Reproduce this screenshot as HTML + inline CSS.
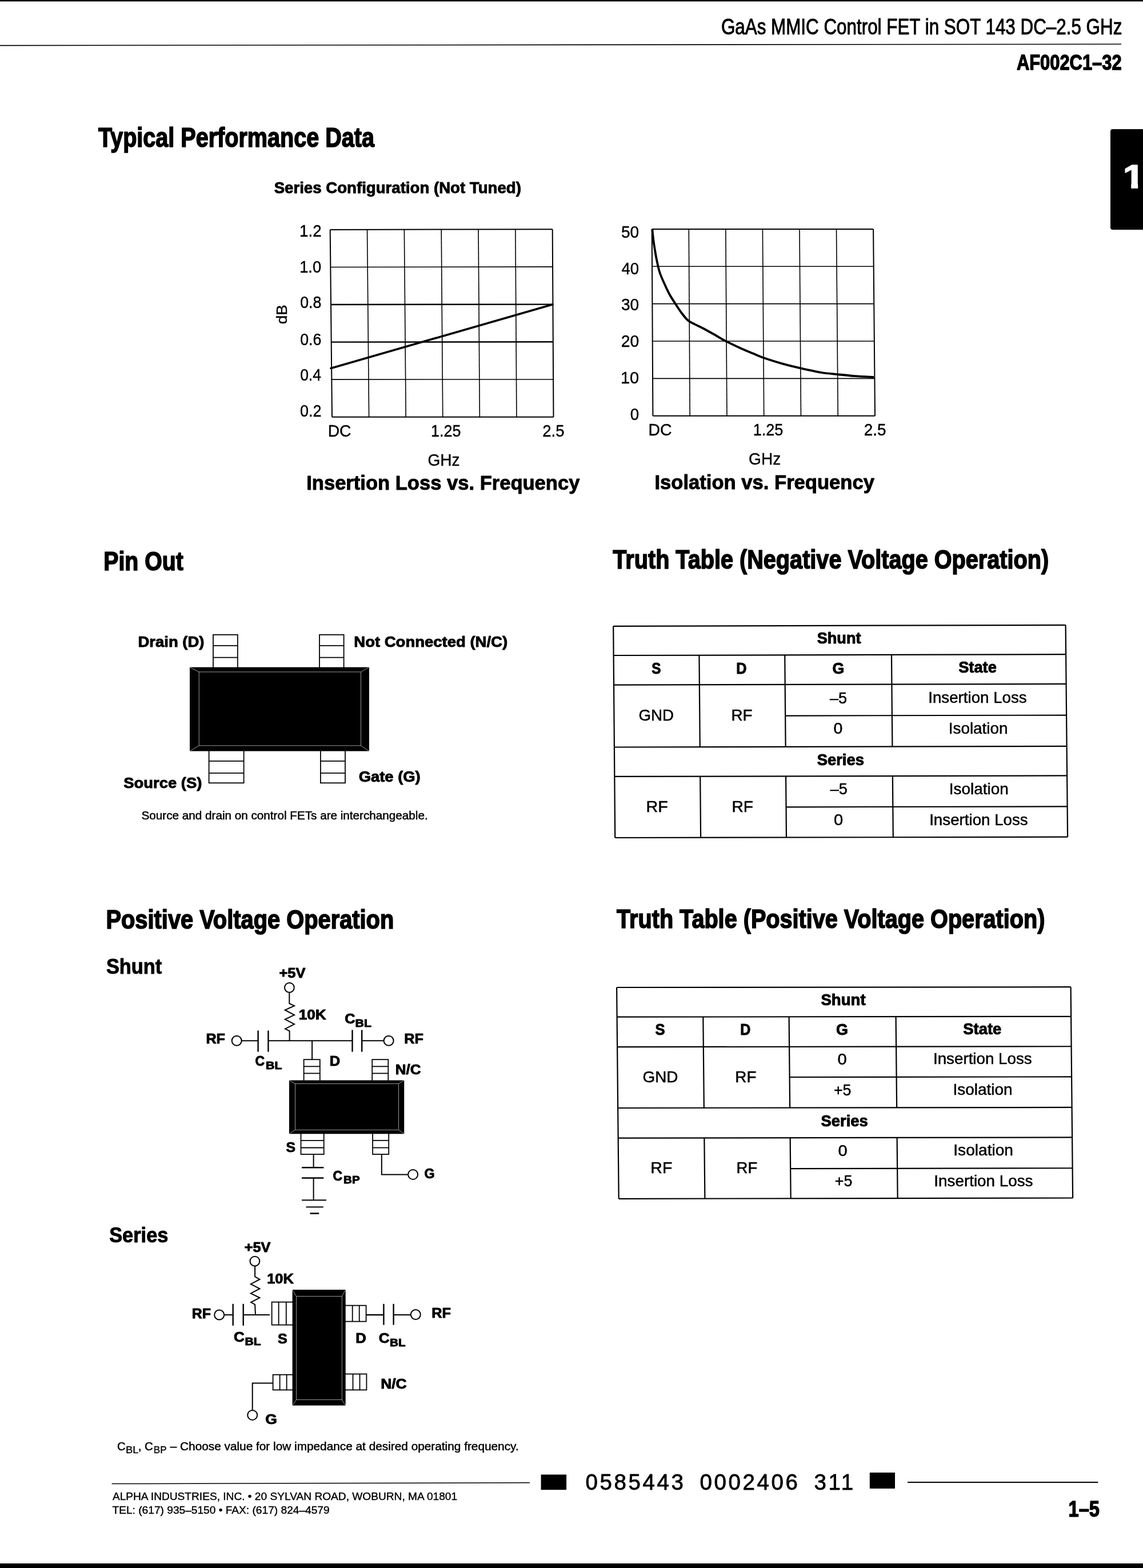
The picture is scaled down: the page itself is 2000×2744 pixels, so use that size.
<!DOCTYPE html>
<html lang="en"><head><meta charset="utf-8"><title>AF002C1-32 GaAs MMIC Control FET in SOT 143</title>
<style>
html,body{margin:0;padding:0;background:#fff}
body{width:2000px;height:2744px;overflow:hidden}
svg{display:block;font-family:"Liberation Sans",sans-serif;fill:#000;stroke:none}
text{white-space:pre;stroke-linejoin:round}
.b{font-weight:bold}
line,polyline,circle,rect[stroke-width]{stroke:#000}
.w line,.w rect{stroke:#bbb;stroke-width:.8;fill:none}
</style></head><body>
<svg width="2000" height="2744" viewBox="0 0 2000 2744">
<rect x="0" y="0" width="2000" height="2744" fill="#fff" stroke="none"/>
<g>
<rect x="0" y="0" width="2000" height="2.5" fill="#000"/>
<rect x="0" y="2736" width="2000" height="8" fill="#000"/>
<line x1="0" y1="79.6" x2="1962" y2="77.3" stroke-width="1.6"/>
<text x="1261.93" y="59.8" font-size="38.66" textLength="701.41" lengthAdjust="spacingAndGlyphs" stroke="#000" stroke-width="1">GaAs MMIC Control FET in SOT 143 DC–2.5 GHz</text>
<text x="1778.93" y="122" font-size="36.92" class="b" textLength="183.71" lengthAdjust="spacingAndGlyphs" stroke="#000" stroke-width="1.4">AF002C1–32</text>
<path d="M2000 226H1947q-4 0-4 4V398q0 4 4 4H2000Z" fill="#000"/>
<text x="1964.68" y="328.6" font-size="58.28" class="b" textLength="37.75" lengthAdjust="spacingAndGlyphs" fill="#fff" stroke="#fff" stroke-width="1.5">1</text>
<rect x="1962" y="320.5" width="17.2" height="11.5" fill="#000"/>
<rect x="1991.2" y="300" width="8.8" height="32" fill="#000"/>
<text x="171.95" y="257" font-size="47.67" class="b" textLength="482.95" lengthAdjust="spacingAndGlyphs" stroke="#000" stroke-width="1.7">Typical Performance Data</text>
<text x="479.65" y="337.8" font-size="28.56" class="b" textLength="432.2" lengthAdjust="spacingAndGlyphs" stroke="#000" stroke-width="0.95">Series Configuration (Not Tuned)</text>
<text x="181.3" y="997.6" font-size="46.22" class="b" textLength="139.45" lengthAdjust="spacingAndGlyphs" stroke="#000" stroke-width="1.7">Pin Out</text>
<text x="1072.25" y="995.2" font-size="46.95" class="b" textLength="762.93" lengthAdjust="spacingAndGlyphs" stroke="#000" stroke-width="1.7">Truth Table (Negative Voltage Operation)</text>
<text x="185.46" y="1624.5" font-size="46.08" class="b" textLength="503.82" lengthAdjust="spacingAndGlyphs" stroke="#000" stroke-width="1.7">Positive Voltage Operation</text>
<text x="1079.05" y="1623.8" font-size="46.95" class="b" textLength="749.38" lengthAdjust="spacingAndGlyphs" stroke="#000" stroke-width="1.7">Truth Table (Positive Voltage Operation)</text>
<text x="185.94" y="1704.3" font-size="36.7" class="b" textLength="97.32" lengthAdjust="spacingAndGlyphs" stroke="#000" stroke-width="0.95">Shunt</text>
<text x="191.14" y="2173.8" font-size="36.7" class="b" textLength="103.35" lengthAdjust="spacingAndGlyphs" stroke="#000" stroke-width="0.95">Series</text>
<line x1="577.7" y1="401.9" x2="581" y2="729.7" stroke-width="2"/>
<line x1="642.53" y1="401.78" x2="645.58" y2="729.7" stroke-width="1.6"/>
<line x1="707.37" y1="401.67" x2="710.17" y2="729.7" stroke-width="1.6"/>
<line x1="772.2" y1="401.55" x2="774.75" y2="729.7" stroke-width="1.6"/>
<line x1="837.03" y1="401.43" x2="839.33" y2="729.7" stroke-width="1.6"/>
<line x1="901.87" y1="401.32" x2="903.92" y2="729.7" stroke-width="1.6"/>
<line x1="966.7" y1="401.2" x2="968.5" y2="729.7" stroke-width="2"/>
<line x1="577.7" y1="401.9" x2="966.7" y2="401.2" stroke-width="2"/>
<line x1="578.36" y1="467.46" x2="967.06" y2="466.9" stroke-width="1.6"/>
<line x1="579.02" y1="533.02" x2="967.42" y2="532.6" stroke-width="2.4"/>
<line x1="579.68" y1="598.58" x2="967.78" y2="598.3" stroke-width="2.4"/>
<line x1="580.34" y1="664.14" x2="968.14" y2="664" stroke-width="1.6"/>
<line x1="581" y1="729.7" x2="968.5" y2="729.7" stroke-width="2"/>
<line x1="1140.7" y1="400.9" x2="1142.4" y2="727.8" stroke-width="2"/>
<line x1="1205.27" y1="400.9" x2="1207.17" y2="727.8" stroke-width="1.6"/>
<line x1="1269.83" y1="400.9" x2="1271.93" y2="727.8" stroke-width="1.6"/>
<line x1="1334.4" y1="400.9" x2="1336.7" y2="727.8" stroke-width="1.6"/>
<line x1="1398.97" y1="400.9" x2="1401.47" y2="727.8" stroke-width="1.6"/>
<line x1="1463.53" y1="400.9" x2="1466.23" y2="727.8" stroke-width="1.6"/>
<line x1="1528.1" y1="400.9" x2="1531" y2="727.8" stroke-width="2"/>
<line x1="1140.7" y1="400.9" x2="1528.1" y2="400.9" stroke-width="2"/>
<line x1="1141.04" y1="466.28" x2="1528.68" y2="466.28" stroke-width="1.6"/>
<line x1="1141.38" y1="531.66" x2="1529.26" y2="531.66" stroke-width="1.6"/>
<line x1="1141.72" y1="597.04" x2="1529.84" y2="597.04" stroke-width="1.6"/>
<line x1="1142.06" y1="662.42" x2="1530.42" y2="662.42" stroke-width="1.6"/>
<line x1="1142.4" y1="727.8" x2="1531" y2="727.8" stroke-width="2"/>
<polyline points="579,644.5 967,532.8" fill="none" stroke-width="3.6" stroke-linecap="round"/>
<path d="M1141.3 401C1141.63 404.17 1142.58 414.23 1143.3 420C1144.02 425.77 1144.57 429.43 1145.6 435.6C1146.63 441.77 1147.97 449.93 1149.5 457C1151.03 464.07 1152.28 470.67 1154.8 478C1157.32 485.33 1161.73 494.67 1164.6 501C1167.47 507.33 1169.27 511.1 1172 516C1174.73 520.9 1177.58 525.15 1181 530.4C1184.42 535.65 1188.7 542.43 1192.5 547.5C1196.3 552.57 1199.88 557.45 1203.8 560.8C1207.72 564.15 1211.63 565.32 1216 567.6C1220.37 569.88 1224.33 571.52 1230 574.5C1235.67 577.48 1243.42 581.8 1250 585.5C1256.58 589.2 1262 592.78 1269.5 596.7C1277 600.62 1286.33 605.07 1295 609C1303.67 612.93 1314.6 617.43 1321.5 620.3C1328.4 623.17 1328.53 623.53 1336.4 626.2C1344.27 628.87 1357.93 633.28 1368.7 636.3C1379.47 639.32 1389.5 641.68 1401 644.3C1412.5 646.92 1426.92 650.18 1437.7 652C1448.48 653.82 1456.02 654.18 1465.7 655.2C1475.38 656.22 1485.25 657.3 1495.8 658.1C1506.35 658.9 1523.47 659.68 1529 660" fill="none" stroke="#000" stroke-width="3.8" stroke-linejoin="round"/>
<text x="524.12" y="413.9" font-size="28.92" textLength="38.46" lengthAdjust="spacingAndGlyphs" stroke="#000" stroke-width="0.4">1.2</text>
<text x="524.15" y="476.5" font-size="28.92" textLength="38.01" lengthAdjust="spacingAndGlyphs" stroke="#000" stroke-width="0.4">1.0</text>
<text x="525.13" y="539.3" font-size="28.92" textLength="37.14" lengthAdjust="spacingAndGlyphs" stroke="#000" stroke-width="0.4">0.8</text>
<text x="525.13" y="603.6" font-size="28.92" textLength="37.14" lengthAdjust="spacingAndGlyphs" stroke="#000" stroke-width="0.4">0.6</text>
<text x="525.14" y="666.4" font-size="28.92" textLength="36.86" lengthAdjust="spacingAndGlyphs" stroke="#000" stroke-width="0.4">0.4</text>
<text x="525.12" y="729.2" font-size="28.92" textLength="37.43" lengthAdjust="spacingAndGlyphs" stroke="#000" stroke-width="0.4">0.2</text>
<text x="-0.91" y="0" font-size="25.29" textLength="33.99" lengthAdjust="spacingAndGlyphs" stroke="#000" stroke-width="0.4" transform="translate(501.6 566.3) rotate(-90)">dB</text>
<text x="573.64" y="764" font-size="28.92" textLength="40.77" lengthAdjust="spacingAndGlyphs" stroke="#000" stroke-width="0.4">DC</text>
<text x="754.08" y="763.5" font-size="28.92" textLength="52.33" lengthAdjust="spacingAndGlyphs" stroke="#000" stroke-width="0.4">1.25</text>
<text x="949.33" y="763.5" font-size="28.92" textLength="38.18" lengthAdjust="spacingAndGlyphs" stroke="#000" stroke-width="0.4">2.5</text>
<text x="748.4" y="814.5" font-size="29.65" textLength="56" lengthAdjust="spacingAndGlyphs" stroke="#000" stroke-width="0.4">GHz</text>
<text x="536.23" y="856.5" font-size="35.39" class="b" textLength="478.16" lengthAdjust="spacingAndGlyphs" stroke="#000" stroke-width="0.95">Insertion Loss vs. Frequency</text>
<text x="1086.98" y="416.4" font-size="28.92" textLength="31.17" lengthAdjust="spacingAndGlyphs" stroke="#000" stroke-width="0.4">50</text>
<text x="1087.55" y="479.7" font-size="28.92" textLength="30.58" lengthAdjust="spacingAndGlyphs" stroke="#000" stroke-width="0.4">40</text>
<text x="1086.98" y="543.2" font-size="28.92" textLength="31.17" lengthAdjust="spacingAndGlyphs" stroke="#000" stroke-width="0.4">30</text>
<text x="1086.69" y="607.2" font-size="28.92" textLength="31.47" lengthAdjust="spacingAndGlyphs" stroke="#000" stroke-width="0.4">20</text>
<text x="1085.93" y="670.5" font-size="28.92" textLength="32.26" lengthAdjust="spacingAndGlyphs" stroke="#000" stroke-width="0.4">10</text>
<text x="1102.69" y="735.2" font-size="28.92" textLength="15.41" lengthAdjust="spacingAndGlyphs" stroke="#000" stroke-width="0.4">0</text>
<text x="1134.43" y="762.1" font-size="28.92" textLength="40.99" lengthAdjust="spacingAndGlyphs" stroke="#000" stroke-width="0.4">DC</text>
<text x="1317.67" y="762" font-size="28.92" textLength="52.75" lengthAdjust="spacingAndGlyphs" stroke="#000" stroke-width="0.4">1.25</text>
<text x="1511.81" y="762" font-size="28.92" textLength="38.6" lengthAdjust="spacingAndGlyphs" stroke="#000" stroke-width="0.4">2.5</text>
<text x="1310.1" y="812.9" font-size="29.65" textLength="56.11" lengthAdjust="spacingAndGlyphs" stroke="#000" stroke-width="0.4">GHz</text>
<text x="1145.43" y="855.8" font-size="35.39" class="b" textLength="384.55" lengthAdjust="spacingAndGlyphs" stroke="#000" stroke-width="0.95">Isolation vs. Frequency</text>
<rect x="373" y="1110.8" width="42.8" height="59.2" fill="#fff" stroke-width="1.8"/>
<line x1="373" y1="1129.8" x2="415.8" y2="1129.8" stroke-width="1.8"/>
<line x1="373" y1="1150.7" x2="415.8" y2="1150.7" stroke-width="1.8"/>
<rect x="559" y="1110.8" width="42.6" height="59.2" fill="#fff" stroke-width="1.8"/>
<line x1="559" y1="1129.8" x2="601.6" y2="1129.8" stroke-width="1.8"/>
<line x1="559" y1="1150.7" x2="601.6" y2="1150.7" stroke-width="1.8"/>
<rect x="365.6" y="1312" width="61" height="58.2" fill="#fff" stroke-width="1.8"/>
<line x1="365.6" y1="1331.9" x2="426.6" y2="1331.9" stroke-width="1.8"/>
<line x1="365.6" y1="1352.8" x2="426.6" y2="1352.8" stroke-width="1.8"/>
<rect x="560.9" y="1312" width="43.1" height="58.2" fill="#fff" stroke-width="1.8"/>
<line x1="560.9" y1="1331.9" x2="604" y2="1331.9" stroke-width="1.8"/>
<line x1="560.9" y1="1352.8" x2="604" y2="1352.8" stroke-width="1.8"/>
<rect x="332" y="1167.6" width="313.9" height="146.9" fill="#000"/>
<g class="w">
<rect x="348.2" y="1175.9" width="283.3" height="129"/>
<line x1="332" y1="1167.6" x2="348.2" y2="1175.9"/>
<line x1="645.9" y1="1167.6" x2="631.5" y2="1175.9"/>
<line x1="332" y1="1314.5" x2="348.2" y2="1304.9"/>
<line x1="645.9" y1="1314.5" x2="631.5" y2="1304.9"/>
</g>
<text x="241.49" y="1131.6" font-size="26.53" class="b" textLength="116.04" lengthAdjust="spacingAndGlyphs" stroke="#000" stroke-width="0.95">Drain (D)</text>
<text x="619.29" y="1131.6" font-size="26.53" class="b" textLength="268.83" lengthAdjust="spacingAndGlyphs" stroke="#000" stroke-width="0.95">Not Connected (N/C)</text>
<text x="216.25" y="1379" font-size="26.53" class="b" textLength="137.04" lengthAdjust="spacingAndGlyphs" stroke="#000" stroke-width="0.95">Source (S)</text>
<text x="627.78" y="1367.6" font-size="26.53" class="b" textLength="107.91" lengthAdjust="spacingAndGlyphs" stroke="#000" stroke-width="0.95">Gate (G)</text>
<text x="247.52" y="1433.6" font-size="20.78" textLength="501.14" lengthAdjust="spacingAndGlyphs" stroke="#000" stroke-width="0.5">Source and drain on control FETs are interchangeable.</text>
<line x1="1073.2" y1="1095.8" x2="1864.6" y2="1093.9" stroke-width="2.2"/>
<line x1="1073.61" y1="1147" x2="1865.08" y2="1145.18" stroke-width="2.2"/>
<line x1="1074.03" y1="1198.6" x2="1865.57" y2="1196.87" stroke-width="2.2"/>
<line x1="1374.16" y1="1252.58" x2="1866.09" y2="1251.56" stroke-width="2.2"/>
<line x1="1074.92" y1="1307.5" x2="1866.6" y2="1305.94" stroke-width="2.2"/>
<line x1="1075.33" y1="1358.9" x2="1867.09" y2="1357.43" stroke-width="2.2"/>
<line x1="1375.53" y1="1412.28" x2="1867.6" y2="1411.41" stroke-width="2.2"/>
<line x1="1076.2" y1="1466" x2="1868.1" y2="1464.7" stroke-width="2.2"/>
<line x1="1073.2" y1="1095.8" x2="1076.2" y2="1466" stroke-width="2.2"/>
<line x1="1864.6" y1="1093.9" x2="1868.1" y2="1464.7" stroke-width="2.2"/>
<line x1="1223.43" y1="1146.66" x2="1224.77" y2="1307.21" stroke-width="2.2"/>
<line x1="1225.2" y1="1358.62" x2="1226.09" y2="1465.75" stroke-width="2.2"/>
<line x1="1373.24" y1="1146.31" x2="1374.62" y2="1306.91" stroke-width="2.2"/>
<line x1="1375.07" y1="1358.34" x2="1375.99" y2="1465.51" stroke-width="2.2"/>
<line x1="1559.96" y1="1145.88" x2="1561.39" y2="1306.54" stroke-width="2.2"/>
<line x1="1561.85" y1="1357.99" x2="1562.81" y2="1465.2" stroke-width="2.2"/>
<text x="1429.66" y="1126" font-size="26.96" class="b" textLength="76.91" lengthAdjust="spacingAndGlyphs" stroke="#000" stroke-width="0.95">Shunt</text>
<text x="1140.25" y="1179.2" font-size="26.96" class="b" textLength="16.18" lengthAdjust="spacingAndGlyphs" stroke="#000" stroke-width="0.95">S</text>
<text x="1288.33" y="1179.2" font-size="26.96" class="b" textLength="18.26" lengthAdjust="spacingAndGlyphs" stroke="#000" stroke-width="0.95">D</text>
<text x="1456.41" y="1178.5" font-size="26.96" class="b" textLength="20.8" lengthAdjust="spacingAndGlyphs" stroke="#000" stroke-width="0.95">G</text>
<text x="1677.16" y="1177" font-size="26.96" class="b" textLength="66.74" lengthAdjust="spacingAndGlyphs" stroke="#000" stroke-width="0.95">State</text>
<text x="1117.46" y="1260.8" font-size="26.89" textLength="61.59" lengthAdjust="spacingAndGlyphs" stroke="#000" stroke-width="0.5">GND</text>
<text x="1279.53" y="1260.8" font-size="26.89" textLength="37.02" lengthAdjust="spacingAndGlyphs" stroke="#000" stroke-width="0.5">RF</text>
<text x="1452.05" y="1230.9" font-size="26.89" textLength="30.04" lengthAdjust="spacingAndGlyphs" stroke="#000" stroke-width="0.5">–5</text>
<text x="1458.51" y="1284" font-size="26.89" textLength="15.87" lengthAdjust="spacingAndGlyphs" stroke="#000" stroke-width="0.5">0</text>
<text x="1624.26" y="1230.3" font-size="26.89" textLength="172.48" lengthAdjust="spacingAndGlyphs" stroke="#000" stroke-width="0.5">Insertion Loss</text>
<text x="1659.74" y="1284" font-size="26.89" textLength="103.81" lengthAdjust="spacingAndGlyphs" stroke="#000" stroke-width="0.5">Isolation</text>
<text x="1429.65" y="1338.5" font-size="26.96" class="b" textLength="82.34" lengthAdjust="spacingAndGlyphs" stroke="#000" stroke-width="0.95">Series</text>
<text x="1130.46" y="1420.7" font-size="26.89" textLength="38.23" lengthAdjust="spacingAndGlyphs" stroke="#000" stroke-width="0.5">RF</text>
<text x="1280.4" y="1420.7" font-size="26.89" textLength="37.57" lengthAdjust="spacingAndGlyphs" stroke="#000" stroke-width="0.5">RF</text>
<text x="1452.75" y="1390.2" font-size="26.89" textLength="30.15" lengthAdjust="spacingAndGlyphs" stroke="#000" stroke-width="0.5">–5</text>
<text x="1459.08" y="1443.9" font-size="26.89" textLength="16.22" lengthAdjust="spacingAndGlyphs" stroke="#000" stroke-width="0.5">0</text>
<text x="1660.73" y="1389.7" font-size="26.89" textLength="104.12" lengthAdjust="spacingAndGlyphs" stroke="#000" stroke-width="0.5">Isolation</text>
<text x="1626.16" y="1444" font-size="26.89" textLength="172.58" lengthAdjust="spacingAndGlyphs" stroke="#000" stroke-width="0.5">Insertion Loss</text>
<line x1="1079.1" y1="1728" x2="1873.6" y2="1727.2" stroke-width="2.2"/>
<line x1="1079.6" y1="1779.7" x2="1874.09" y2="1778.83" stroke-width="2.2"/>
<line x1="1080.11" y1="1832.2" x2="1874.59" y2="1831.26" stroke-width="2.2"/>
<line x1="1381.62" y1="1885.02" x2="1875.09" y2="1884.39" stroke-width="2.2"/>
<line x1="1081.15" y1="1939" x2="1875.6" y2="1937.91" stroke-width="2.2"/>
<line x1="1081.67" y1="1991.6" x2="1876.09" y2="1990.44" stroke-width="2.2"/>
<line x1="1383.16" y1="2045.03" x2="1876.61" y2="2044.27" stroke-width="2.2"/>
<line x1="1082.7" y1="2097.8" x2="1877.1" y2="2096.5" stroke-width="2.2"/>
<line x1="1079.1" y1="1728" x2="1082.7" y2="2097.8" stroke-width="2.2"/>
<line x1="1873.6" y1="1727.2" x2="1877.1" y2="2096.5" stroke-width="2.2"/>
<line x1="1230.3" y1="1779.53" x2="1231.84" y2="1938.79" stroke-width="2.2"/>
<line x1="1232.35" y1="1991.38" x2="1233.38" y2="2097.55" stroke-width="2.2"/>
<line x1="1380.6" y1="1779.37" x2="1382.13" y2="1938.59" stroke-width="2.2"/>
<line x1="1382.64" y1="1991.16" x2="1383.66" y2="2097.31" stroke-width="2.2"/>
<line x1="1567.59" y1="1779.17" x2="1569.12" y2="1938.33" stroke-width="2.2"/>
<line x1="1569.62" y1="1990.89" x2="1570.64" y2="2097" stroke-width="2.2"/>
<text x="1436.45" y="1758.8" font-size="26.96" class="b" textLength="78.23" lengthAdjust="spacingAndGlyphs" stroke="#000" stroke-width="0.95">Shunt</text>
<text x="1146.41" y="1811" font-size="26.96" class="b" textLength="17.06" lengthAdjust="spacingAndGlyphs" stroke="#000" stroke-width="0.95">S</text>
<text x="1295.34" y="1811" font-size="26.96" class="b" textLength="18.14" lengthAdjust="spacingAndGlyphs" stroke="#000" stroke-width="0.95">D</text>
<text x="1462.9" y="1810.5" font-size="26.96" class="b" textLength="20.91" lengthAdjust="spacingAndGlyphs" stroke="#000" stroke-width="0.95">G</text>
<text x="1685.25" y="1810.3" font-size="26.96" class="b" textLength="67.04" lengthAdjust="spacingAndGlyphs" stroke="#000" stroke-width="0.95">State</text>
<text x="1124.56" y="1893.5" font-size="26.89" textLength="61.91" lengthAdjust="spacingAndGlyphs" stroke="#000" stroke-width="0.5">GND</text>
<text x="1286.33" y="1893.5" font-size="26.89" textLength="37.02" lengthAdjust="spacingAndGlyphs" stroke="#000" stroke-width="0.5">RF</text>
<text x="1465.58" y="1863.2" font-size="26.89" textLength="16.22" lengthAdjust="spacingAndGlyphs" stroke="#000" stroke-width="0.5">0</text>
<text x="1458.91" y="1916.7" font-size="26.89" textLength="30.51" lengthAdjust="spacingAndGlyphs" stroke="#000" stroke-width="0.5">+5</text>
<text x="1632.95" y="1862" font-size="26.89" textLength="172.79" lengthAdjust="spacingAndGlyphs" stroke="#000" stroke-width="0.5">Insertion Loss</text>
<text x="1667.54" y="1916.2" font-size="26.89" textLength="104.02" lengthAdjust="spacingAndGlyphs" stroke="#000" stroke-width="0.5">Isolation</text>
<text x="1436.45" y="1970.6" font-size="26.96" class="b" textLength="82.34" lengthAdjust="spacingAndGlyphs" stroke="#000" stroke-width="0.95">Series</text>
<text x="1138.38" y="2052.9" font-size="26.89" textLength="37.9" lengthAdjust="spacingAndGlyphs" stroke="#000" stroke-width="0.5">RF</text>
<text x="1288.55" y="2052.9" font-size="26.89" textLength="36.69" lengthAdjust="spacingAndGlyphs" stroke="#000" stroke-width="0.5">RF</text>
<text x="1466.58" y="2023" font-size="26.89" textLength="16.22" lengthAdjust="spacingAndGlyphs" stroke="#000" stroke-width="0.5">0</text>
<text x="1460.81" y="2076" font-size="26.89" textLength="30.51" lengthAdjust="spacingAndGlyphs" stroke="#000" stroke-width="0.5">+5</text>
<text x="1668.32" y="2021.6" font-size="26.89" textLength="104.65" lengthAdjust="spacingAndGlyphs" stroke="#000" stroke-width="0.5">Isolation</text>
<text x="1634.35" y="2076" font-size="26.89" textLength="173.2" lengthAdjust="spacingAndGlyphs" stroke="#000" stroke-width="0.5">Insertion Loss</text>
<text x="488.46" y="1711.2" font-size="24.06" class="b" textLength="45.95" lengthAdjust="spacingAndGlyphs" stroke="#000" stroke-width="0.95">+5V</text>
<polyline points="506.3,1737 506.3,1756 515,1760.2 498.7,1767.5 515,1776.2 498.7,1783.8 515,1792.3 499,1800.4 506.6,1804.4 506.6,1821.3" fill="none" stroke-width="2" stroke-linejoin="miter"/>
<circle cx="506.4" cy="1728.3" r="8.4" fill="#fff" stroke-width="2"/>
<text x="522.71" y="1784.4" font-size="24.49" class="b" textLength="48" lengthAdjust="spacingAndGlyphs" stroke="#000" stroke-width="0.95">10K</text>
<line x1="423" y1="1821.3" x2="451.6" y2="1821.3" stroke-width="2"/>
<line x1="451.6" y1="1803.5" x2="451.6" y2="1840.6" stroke-width="2.4"/>
<line x1="469.4" y1="1803.5" x2="469.4" y2="1840.6" stroke-width="2.4"/>
<line x1="469.4" y1="1821.3" x2="616.5" y2="1821.3" stroke-width="2"/>
<line x1="616.5" y1="1802.4" x2="616.5" y2="1840.6" stroke-width="2.4"/>
<line x1="633.2" y1="1802.4" x2="633.2" y2="1840.6" stroke-width="2.4"/>
<line x1="633.2" y1="1821.3" x2="671" y2="1821.3" stroke-width="2"/>
<circle cx="414.2" cy="1821.3" r="8.5" fill="#fff" stroke-width="2"/>
<circle cx="680.1" cy="1821.3" r="8.5" fill="#fff" stroke-width="2"/>
<text x="360.44" y="1826" font-size="24.78" class="b" textLength="33.54" lengthAdjust="spacingAndGlyphs" stroke="#000" stroke-width="0.95">RF</text>
<text x="707.23" y="1826" font-size="24.78" class="b" textLength="33.65" lengthAdjust="spacingAndGlyphs" stroke="#000" stroke-width="0.95">RF</text>
<text x="603.26" y="1790.8" font-size="24.06" class="b" textLength="18.25" lengthAdjust="spacingAndGlyphs" stroke="#000" stroke-width="0.95">C</text>
<text x="621.6" y="1797" font-size="18.24" class="b" textLength="28.23" lengthAdjust="spacingAndGlyphs" stroke="#000" stroke-width="0.95">BL</text>
<text x="446.46" y="1865.4" font-size="24.06" class="b" textLength="16.59" lengthAdjust="spacingAndGlyphs" stroke="#000" stroke-width="0.95">C</text>
<text x="465.09" y="1870.8" font-size="18.24" class="b" textLength="28.33" lengthAdjust="spacingAndGlyphs" stroke="#000" stroke-width="0.95">BL</text>
<line x1="546.1" y1="1821.3" x2="546.1" y2="1855" stroke-width="2"/>
<text x="576.82" y="1864.5" font-size="24.06" class="b" textLength="18.38" lengthAdjust="spacingAndGlyphs" stroke="#000" stroke-width="0.95">D</text>
<text x="691.79" y="1879.9" font-size="24.06" class="b" textLength="44.64" lengthAdjust="spacingAndGlyphs" stroke="#000" stroke-width="0.95">N/C</text>
<rect x="531.6" y="1854.2" width="28.2" height="38.8" fill="#fff" stroke-width="1.8"/>
<line x1="531.6" y1="1866.3" x2="559.8" y2="1866.3" stroke-width="1.8"/>
<line x1="531.6" y1="1878.4" x2="559.8" y2="1878.4" stroke-width="1.8"/>
<rect x="651.2" y="1854.2" width="28.1" height="38.8" fill="#fff" stroke-width="1.8"/>
<line x1="651.2" y1="1866.3" x2="679.3" y2="1866.3" stroke-width="1.8"/>
<line x1="651.2" y1="1878.4" x2="679.3" y2="1878.4" stroke-width="1.8"/>
<rect x="526.5" y="1982" width="40.2" height="38" fill="#fff" stroke-width="1.8"/>
<line x1="526.5" y1="1995.8" x2="566.7" y2="1995.8" stroke-width="1.8"/>
<line x1="526.5" y1="2008.5" x2="566.7" y2="2008.5" stroke-width="1.8"/>
<rect x="652.1" y="1982" width="28.1" height="38" fill="#fff" stroke-width="1.8"/>
<line x1="652.1" y1="1995.8" x2="680.2" y2="1995.8" stroke-width="1.8"/>
<line x1="652.1" y1="2008.5" x2="680.2" y2="2008.5" stroke-width="1.8"/>
<rect x="505.9" y="1890.5" width="201.3" height="93.8" fill="#000"/>
<g class="w">
<rect x="516.5" y="1896.5" width="181" height="80.8"/>
<line x1="505.9" y1="1890.5" x2="516.5" y2="1896.5"/>
<line x1="707.2" y1="1890.5" x2="697.5" y2="1896.5"/>
<line x1="505.9" y1="1984.3" x2="516.5" y2="1977.3"/>
<line x1="707.2" y1="1984.3" x2="697.5" y2="1977.3"/>
</g>
<text x="500.43" y="2015.5" font-size="24.06" class="b" textLength="16.51" lengthAdjust="spacingAndGlyphs" stroke="#000" stroke-width="0.95">S</text>
<line x1="548.6" y1="2020" x2="548.6" y2="2043.3" stroke-width="2"/>
<line x1="528" y1="2043.3" x2="566.4" y2="2043.3" stroke-width="2.4"/>
<line x1="528" y1="2061.5" x2="566.4" y2="2061.5" stroke-width="2.4"/>
<line x1="548.6" y1="2061.5" x2="548.6" y2="2100.2" stroke-width="2"/>
<line x1="528" y1="2100.2" x2="571" y2="2100.2" stroke-width="2"/>
<line x1="535.5" y1="2112.3" x2="565.8" y2="2112.3" stroke-width="2"/>
<line x1="542.5" y1="2123.5" x2="558.2" y2="2123.5" stroke-width="2.6"/>
<text x="582.56" y="2066" font-size="24.06" class="b" textLength="16.59" lengthAdjust="spacingAndGlyphs" stroke="#000" stroke-width="0.95">C</text>
<text x="601.14" y="2071.2" font-size="18.24" class="b" textLength="28.48" lengthAdjust="spacingAndGlyphs" stroke="#000" stroke-width="0.95">BP</text>
<polyline points="667.8,2020 667.8,2055.4 713.6,2055.4" fill="none" stroke-width="2"/>
<circle cx="722.6" cy="2055.4" r="8.5" fill="#fff" stroke-width="2"/>
<text x="742.45" y="2062.4" font-size="24.06" class="b" textLength="18.03" lengthAdjust="spacingAndGlyphs" stroke="#000" stroke-width="0.95">G</text>
<text x="427.66" y="2190.5" font-size="24.06" class="b" textLength="45.64" lengthAdjust="spacingAndGlyphs" stroke="#000" stroke-width="0.95">+5V</text>
<polyline points="446.1,2215 446.1,2234.1 454.4,2238.9 438.8,2247.2 454.4,2255.2 438.8,2263.4 454.4,2271.1 439,2279.1 446.1,2282.8 447,2301" fill="none" stroke-width="2" stroke-linejoin="miter"/>
<circle cx="445.9" cy="2207.1" r="8.4" fill="#fff" stroke-width="2"/>
<text x="467.15" y="2245.7" font-size="24.49" class="b" textLength="46.75" lengthAdjust="spacingAndGlyphs" stroke="#000" stroke-width="0.95">10K</text>
<text x="335.86" y="2307" font-size="24.78" class="b" textLength="33.22" lengthAdjust="spacingAndGlyphs" stroke="#000" stroke-width="0.95">RF</text>
<circle cx="383.7" cy="2301" r="8.5" fill="#fff" stroke-width="2"/>
<line x1="392.5" y1="2301" x2="407.7" y2="2301" stroke-width="2"/>
<line x1="407.7" y1="2281.8" x2="407.7" y2="2319.8" stroke-width="2.4"/>
<line x1="425.7" y1="2281.8" x2="425.7" y2="2319.8" stroke-width="2.4"/>
<line x1="425.7" y1="2301" x2="472" y2="2301" stroke-width="2"/>
<rect x="475.6" y="2278.6" width="38.4" height="40" fill="#fff" stroke-width="1.8"/>
<line x1="487.6" y1="2278.6" x2="487.6" y2="2318.6" stroke-width="1.8"/>
<line x1="500.8" y1="2278.6" x2="500.8" y2="2318.6" stroke-width="1.8"/>
<rect x="602" y="2284.6" width="38.6" height="28" fill="#fff" stroke-width="1.8"/>
<line x1="616.7" y1="2284.6" x2="616.7" y2="2312.6" stroke-width="1.8"/>
<line x1="628.7" y1="2284.6" x2="628.7" y2="2312.6" stroke-width="1.8"/>
<rect x="477.6" y="2405.7" width="36.4" height="26.7" fill="#fff" stroke-width="1.8"/>
<line x1="489.6" y1="2405.7" x2="489.6" y2="2432.4" stroke-width="1.8"/>
<line x1="501.6" y1="2405.7" x2="501.6" y2="2432.4" stroke-width="1.8"/>
<rect x="602" y="2404.5" width="39.4" height="27.9" fill="#fff" stroke-width="1.8"/>
<line x1="617.5" y1="2404.5" x2="617.5" y2="2432.4" stroke-width="1.8"/>
<line x1="629.5" y1="2404.5" x2="629.5" y2="2432.4" stroke-width="1.8"/>
<rect x="511.6" y="2257" width="93.1" height="202.6" fill="#000"/>
<g class="w">
<rect x="518.4" y="2268.6" width="79.9" height="181"/>
<line x1="511.6" y1="2257" x2="518.4" y2="2268.6"/>
<line x1="604.7" y1="2257" x2="598.3" y2="2268.6"/>
<line x1="511.6" y1="2459.6" x2="518.4" y2="2449.6"/>
<line x1="604.7" y1="2459.6" x2="598.3" y2="2449.6"/>
</g>
<line x1="640.6" y1="2301" x2="671.4" y2="2301" stroke-width="2.4"/>
<line x1="671.4" y1="2281.8" x2="671.4" y2="2318.6" stroke-width="2.4"/>
<line x1="688.6" y1="2281.8" x2="688.6" y2="2318.6" stroke-width="2.4"/>
<line x1="688.6" y1="2301" x2="718.5" y2="2301" stroke-width="2"/>
<circle cx="727.3" cy="2300.5" r="8.5" fill="#fff" stroke-width="2"/>
<text x="755.33" y="2305.8" font-size="24.78" class="b" textLength="33.65" lengthAdjust="spacingAndGlyphs" stroke="#000" stroke-width="0.95">RF</text>
<text x="409.13" y="2347.7" font-size="24.06" class="b" textLength="18.8" lengthAdjust="spacingAndGlyphs" stroke="#000" stroke-width="0.95">C</text>
<text x="428.6" y="2353.7" font-size="18.24" class="b" textLength="28.12" lengthAdjust="spacingAndGlyphs" stroke="#000" stroke-width="0.95">BL</text>
<text x="486.12" y="2350.5" font-size="24.06" class="b" textLength="16.73" lengthAdjust="spacingAndGlyphs" stroke="#000" stroke-width="0.95">S</text>
<text x="622.31" y="2350" font-size="24.06" class="b" textLength="18.5" lengthAdjust="spacingAndGlyphs" stroke="#000" stroke-width="0.95">D</text>
<text x="662.83" y="2350" font-size="24.06" class="b" textLength="18.8" lengthAdjust="spacingAndGlyphs" stroke="#000" stroke-width="0.95">C</text>
<text x="682.14" y="2355.7" font-size="18.24" class="b" textLength="27.47" lengthAdjust="spacingAndGlyphs" stroke="#000" stroke-width="0.95">BL</text>
<text x="666.16" y="2430.4" font-size="24.06" class="b" textLength="45.38" lengthAdjust="spacingAndGlyphs" stroke="#000" stroke-width="0.95">N/C</text>
<polyline points="477.6,2420.5 441.7,2420.5 441.7,2467.6" fill="none" stroke-width="2"/>
<circle cx="441.7" cy="2476.4" r="8.5" fill="#fff" stroke-width="2"/>
<text x="464.22" y="2491.6" font-size="24.06" class="b" textLength="20.57" lengthAdjust="spacingAndGlyphs" stroke="#000" stroke-width="0.95">G</text>
<text x="204.93" y="2537.5" font-size="21.08" textLength="14.67" lengthAdjust="spacingAndGlyphs" stroke="#000" stroke-width="0.5">C</text>
<text x="220.09" y="2542.5" font-size="15.84" textLength="22.37" lengthAdjust="spacingAndGlyphs" stroke="#000" stroke-width="0.3">BL</text>
<text x="241.85" y="2537.5" font-size="21.08" stroke="#000" stroke-width="0.5">,</text>
<text x="253.03" y="2537.5" font-size="21.08" textLength="14.78" lengthAdjust="spacingAndGlyphs" stroke="#000" stroke-width="0.5">C</text>
<text x="268.78" y="2542.5" font-size="15.84" textLength="22.79" lengthAdjust="spacingAndGlyphs" stroke="#000" stroke-width="0.3">BP</text>
<text x="297.75" y="2537.5" font-size="21.08" textLength="609.94" lengthAdjust="spacingAndGlyphs" stroke="#000" stroke-width="0.5">– Choose value for low impedance at desired operating frequency.</text>
<line x1="195.6" y1="2596.6" x2="927.1" y2="2594.8" stroke-width="1.5"/>
<line x1="1588" y1="2593.9" x2="1921.3" y2="2593.9" stroke-width="2"/>
<rect x="946.6" y="2580.5" width="44.5" height="26.7" fill="#000"/>
<rect x="1521.8" y="2577" width="44.2" height="28" fill="#000"/>
<text x="1024.6" y="2606.6" font-size="38.5" style="letter-spacing:3.59px;word-spacing:10.71px" stroke="#000" stroke-width="0.8">0585443 0002406 311</text>
<text x="196.9" y="2624.8" font-size="18.75" textLength="603.26" lengthAdjust="spacingAndGlyphs" stroke="#000" stroke-width="0.4">ALPHA INDUSTRIES, INC. • 20 SYLVAN ROAD, WOBURN, MA 01801</text>
<text x="196.52" y="2648.9" font-size="19.04" textLength="380.13" lengthAdjust="spacingAndGlyphs" stroke="#000" stroke-width="0.4">TEL: (617) 935–5150 • FAX: (617) 824–4579</text>
<text x="1869.6" y="2654.4" font-size="38.52" class="b" textLength="54.28" lengthAdjust="spacingAndGlyphs" stroke="#000" stroke-width="1.5">1–5</text>
</g>
</svg>
</body></html>
